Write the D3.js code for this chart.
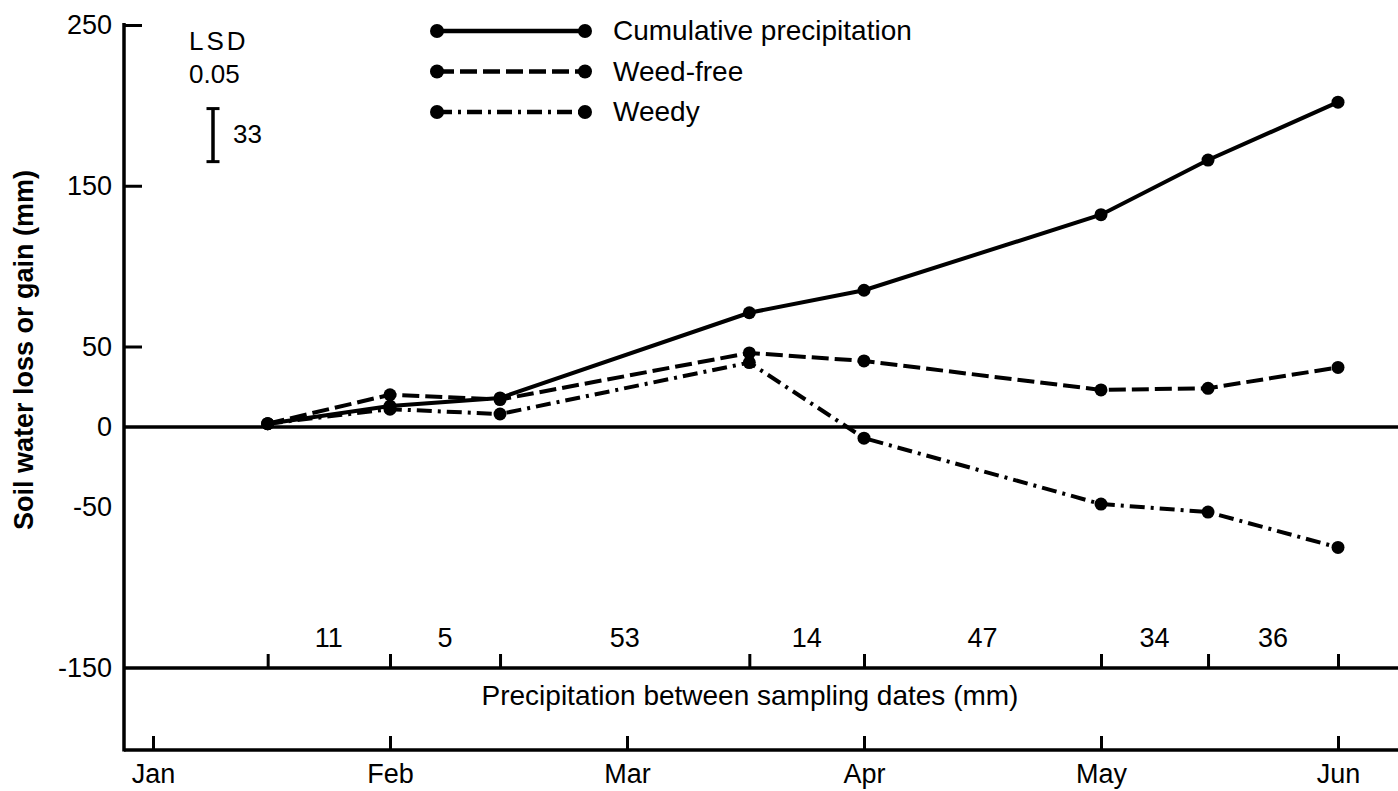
<!DOCTYPE html>
<html>
<head>
<meta charset="utf-8">
<script src="https://cdn.jsdelivr.net/npm/d3@7"></script>
<style>
  html, body { margin: 0; padding: 0; background: #fff; }
  svg { display: block; }
  text { font-family: "Liberation Sans", Arial, Helvetica, sans-serif; fill: #000; }
</style>
</head>
<body>
<svg id="chart" width="1398" height="791"></svg>
<script>
// Sampling dates and soil water values (mm)
const sampleDates = ["1985-01-16", "1985-02-01", "1985-02-14", "1985-03-17",
                     "1985-04-01", "1985-05-01", "1985-05-15", "1985-06-01"];
const precipBetween = [11, 5, 53, 14, 47, 34, 36];
const cumulativePrecip = [2, 13, 18, 71, 85, 132, 166, 202];
const weedFree = [2, 20, 17, 46, 41, 23, 24, 37];
const weedy = [2, 11, 8, 40, -7, -48, -53, -75];
const yTickLabels = [250, 150, 50, 0, -50, -150];
const yMajorTicks = [250, 150, 50];
const monthLabels = ["Jan", "Feb", "Mar", "Apr", "May", "Jun"];
const lsdValue = 33;
const lsdTop = 198;

const W = 1398, H = 791;
const axisX = 124;
const dateAxisY = 750;
const parse = d3.timeParse("%Y-%m-%d");
const dates = sampleDates.map(parse);
const monthStarts = d3.timeMonths(parse("1985-01-01"), parse("1985-06-02"));

// Months drawn with equal width
const x = d3.scaleTime()
  .domain(monthStarts)
  .range(monthStarts.map((d, i) => 153 + i * 237));
const y = d3.scaleLinear().domain([-150, 250]).range([668, 25]);

const svg = d3.select("#chart");
const FONT = "Liberation Sans, Arial, sans-serif";

// Left axis line
svg.append("line")
  .attr("x1", axisX).attr("x2", axisX)
  .attr("y1", y(250) - 2).attr("y2", dateAxisY + 1.5)
  .attr("stroke", "#000").attr("stroke-width", 3.5);

// Y tick labels
const yLab = svg.append("g").attr("transform", `translate(${axisX},0)`)
  .call(d3.axisLeft(y).tickValues(yTickLabels).tickSize(0).tickPadding(12).tickFormat(d => String(d)));
yLab.select(".domain").remove();
yLab.selectAll("text").style("font-size", "27px").style("font-family", FONT);

// Inward major ticks
const yTk = svg.append("g").attr("transform", `translate(${axisX},0)`)
  .call(d3.axisRight(y).tickValues(yMajorTicks).tickSize(18).tickFormat(""));
yTk.select(".domain").remove();
yTk.selectAll("line").attr("stroke", "#000").attr("stroke-width", 3);

// Zero line, precipitation baseline and date baseline
[y(0), y(-150), dateAxisY].forEach(yy => {
  svg.append("line")
    .attr("x1", axisX).attr("x2", W)
    .attr("y1", yy).attr("y2", yy)
    .attr("stroke", "#000").attr("stroke-width", 3.5);
});

// Sampling-date ticks on the precipitation baseline
const sTk = svg.append("g").attr("transform", `translate(0,${y(-150)})`)
  .call(d3.axisBottom(x).tickValues(dates).tickSizeInner(-14).tickSizeOuter(0).tickFormat(""));
sTk.select(".domain").remove();
sTk.selectAll("line").attr("stroke", "#000").attr("stroke-width", 3);

// Month axis
const mAx = svg.append("g").attr("transform", `translate(0,${dateAxisY})`)
  .call(d3.axisBottom(x).tickValues(monthStarts).tickSizeInner(-14).tickSizeOuter(0)
    .tickPadding(14).tickFormat((d, i) => monthLabels[i]));
mAx.select(".domain").remove();
mAx.selectAll("line").attr("stroke", "#000").attr("stroke-width", 3);
mAx.selectAll("text").style("font-size", "27px").style("font-family", FONT);

// Precipitation amounts between sampling dates
svg.append("g").selectAll("text")
  .data(precipBetween)
  .join("text")
  .attr("x", (d, i) => (x(dates[i]) + x(dates[i + 1])) / 2)
  .attr("y", y(-150) - 21)
  .attr("text-anchor", "middle")
  .style("font-size", "27px")
  .text(d => d);

svg.append("text")
  .attr("x", 750).attr("y", 705)
  .attr("text-anchor", "middle")
  .style("font-size", "28px")
  .text("Precipitation between sampling dates (mm)");

// Y axis title
svg.append("text")
  .attr("transform", "translate(33,350) rotate(-90)")
  .attr("text-anchor", "middle")
  .style("font-size", "27px")
  .style("font-weight", "bold")
  .text("Soil water loss or gain (mm)");

// Series
const series = [
  { name: "Cumulative precipitation", values: cumulativePrecip, dash: null },
  { name: "Weed-free", values: weedFree, dash: "17,6" },
  { name: "Weedy", values: weedy, dash: "15,6,3,6" }
];

const line = d3.line().x(d => x(d.date)).y(d => y(d.v));

series.forEach(s => {
  const pts = s.values.map((v, i) => ({ date: dates[i], v }));
  svg.append("path")
    .datum(pts)
    .attr("d", line)
    .attr("fill", "none")
    .attr("stroke", "#000")
    .attr("stroke-width", 4)
    .attr("stroke-dasharray", s.dash);
  svg.append("g").selectAll("circle")
    .data(pts)
    .join("circle")
    .attr("cx", d => x(d.date))
    .attr("cy", d => y(d.v))
    .attr("r", 6.5)
    .attr("fill", "#000");
});

// Legend
const legend = svg.append("g");
series.forEach((s, i) => {
  const ly = 31 + i * 40.5;
  legend.append("line")
    .attr("x1", 437).attr("x2", 585).attr("y1", ly).attr("y2", ly)
    .attr("stroke", "#000").attr("stroke-width", 4.5)
    .attr("stroke-dasharray", s.dash);
  [437, 585].forEach(cx => legend.append("circle")
    .attr("cx", cx).attr("cy", ly).attr("r", 7).attr("fill", "#000"));
  legend.append("text")
    .attr("x", 613).attr("y", ly + 9)
    .style("font-size", "28px")
    .text(s.name);
});

// LSD (0.05) bar
const lsdX = 213;
svg.append("text").attr("x", 189).attr("y", 50)
  .style("font-size", "26px").style("letter-spacing", "3px").text("LSD");
svg.append("text").attr("x", 189).attr("y", 83)
  .style("font-size", "26px").text("0.05");
svg.append("line")
  .attr("x1", lsdX).attr("x2", lsdX)
  .attr("y1", y(lsdTop)).attr("y2", y(lsdTop - lsdValue))
  .attr("stroke", "#000").attr("stroke-width", 3.5);
[lsdTop, lsdTop - lsdValue].forEach(v => svg.append("line")
  .attr("x1", lsdX - 6.5).attr("x2", lsdX + 6.5)
  .attr("y1", y(v)).attr("y2", y(v))
  .attr("stroke", "#000").attr("stroke-width", 3));
svg.append("text").attr("x", 233).attr("y", 143)
  .style("font-size", "26px").text(lsdValue);
</script>
</body>
</html>
